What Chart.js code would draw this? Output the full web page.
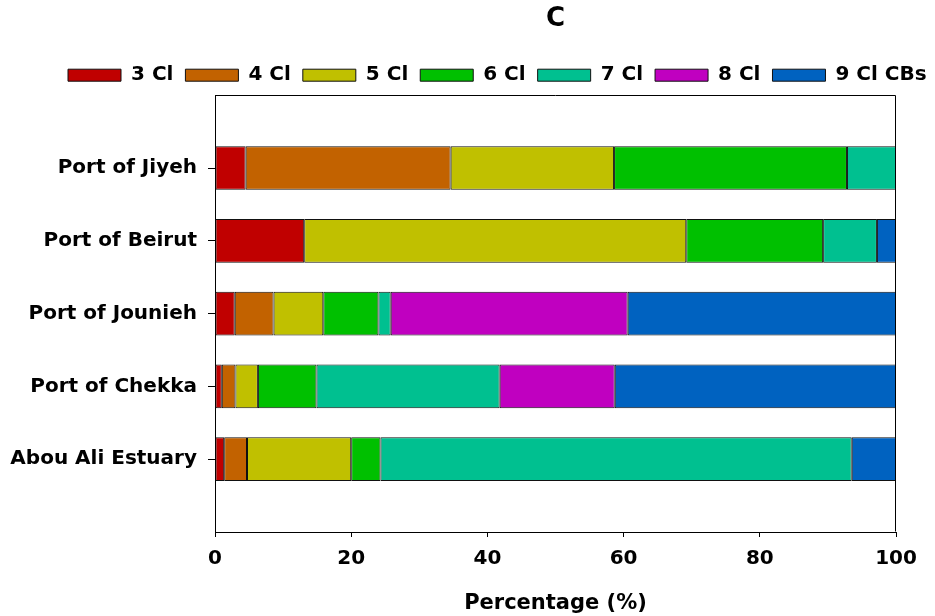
<!DOCTYPE html>
<html>
<head>
<meta charset="utf-8">
<script src="https://cdn.jsdelivr.net/npm/chart.js@4.4.1/dist/chart.umd.min.js"></script>
<style>
  html, body { margin: 0; padding: 0; background: #ffffff; }
  #wrap { width: 935px; height: 616px; }
</style>
</head>
<body>
<div id="wrap"><canvas id="c" width="935" height="616"></canvas></div>
<script>
// ---- data (percentages) ----
const categories = ['Port of Jiyeh', 'Port of Beirut', 'Port of Jounieh', 'Port of Chekka', 'Abou Ali Estuary'];
const seriesNames = ['3 Cl', '4 Cl', '5 Cl', '6 Cl', '7 Cl', '8 Cl', '9 Cl CBs'];
const cl3 = [4.5, 13.1, 2.9, 1.0, 1.35];
const cl4 = [30.1, 0, 5.7, 2.0, 3.35];
const cl5 = [24.0, 56.1, 7.3, 3.3, 15.3];
const cl6 = [34.2, 20.1, 8.1, 8.6, 4.3];
const cl7 = [7.2, 7.9, 1.8, 26.9, 69.2];
const cl8 = [0, 0, 34.8, 16.9, 0];
const cl9 = [0, 2.8, 39.4, 41.3, 6.5];
const xTicks = [0, 20, 40, 60, 80, 100];
const seriesColors = ['#C00000', '#C26200', '#C0C000', '#00C000', '#00C090', '#C000C0', '#0062C0'];

const seriesValues = [cl3, cl4, cl5, cl6, cl7, cl8, cl9];
// pad the category axis with one empty slot above and below (as in the reference)
const labels = [''].concat(categories, ['']);
const pad = arr => [null].concat(arr.map(v => (v === 0 ? null : v)), [null]);

const datasets = seriesNames.map((name, i) => ({
  label: name,
  data: pad(seriesValues[i]),
  backgroundColor: seriesColors[i],
  borderColor: '#111111',
  borderWidth: 1,
  borderSkipped: false,
  categoryPercentage: 0.6,
  barPercentage: 1.0
}));

const FONT = 'DejaVu Sans';

const framePlugin = {
  id: 'frame',
  afterLayout(chart) {
    const ca = chart.chartArea;
    if (chart.titleBlock) {
      chart.titleBlock.left = ca.left;
      chart.titleBlock.right = ca.right;
    }
    if (chart.legend) {
      const w = chart.legend.right - chart.legend.left;
      chart.legend.left = 56;
      chart.legend.right = 56 + w;
    }
  },
  afterDatasetsDraw(chart) {
    const ca = chart.chartArea;
    const ctx = chart.ctx;
    ctx.save();
    ctx.strokeStyle = '#000';
    ctx.lineWidth = 1;
    ctx.beginPath();
    ctx.moveTo(Math.round(ca.left) + 0.5, Math.round(ca.top) + 0.5);
    ctx.lineTo(Math.round(ca.right) - 0.5, Math.round(ca.top) + 0.5);
    ctx.lineTo(Math.round(ca.right) - 0.5, Math.round(ca.bottom) - 0.5);
    ctx.stroke();
    ctx.restore();
  }
};

new Chart(document.getElementById('c'), {
  type: 'bar',
  data: { labels: labels, datasets: datasets },
  plugins: [framePlugin],
  options: {
    indexAxis: 'y',
    responsive: false,
    animation: false,
    layout: { padding: { left: 0, right: 39, top: 0, bottom: 0 } },
    plugins: {
      title: {
        display: true,
        text: 'C',
        color: '#000',
        font: { family: FONT, size: 26, weight: 'bold' },
        padding: { top: 4, bottom: 18 }
      },
      legend: {
        display: true,
        position: 'top',
        align: 'start',
        labels: {
          color: '#000',
          font: { family: FONT, size: 20, weight: 'bold' },
          boxWidth: 53,
          boxHeight: 12,
          padding: 12
        }
      },
      tooltip: { enabled: false }
    },
    scales: {
      x: {
        type: 'linear',
        stacked: true,
        min: 0,
        max: 100,
        afterBuildTicks(scale) { scale.ticks = xTicks.map(v => ({ value: v })); },
        afterFit(scale) { scale.height = 84; },
        ticks: {
          color: '#000',
          font: { family: FONT, size: 20, weight: 'bold' },
          padding: 10,
          maxRotation: 0
        },
        grid: { display: true, drawOnChartArea: false, drawTicks: true, tickLength: 5, tickColor: '#000' },
        border: { display: true, color: '#000', width: 1 },
        title: {
          display: true,
          text: 'Percentage (%)',
          color: '#000',
          font: { family: FONT, size: 21, weight: 'bold' },
          padding: { top: 4, bottom: 0 }
        }
      },
      y: {
        type: 'category',
        stacked: true,
        offset: false,
        afterBuildTicks(scale) {
          scale.ticks = scale.ticks.filter(t => t.value > 0 && t.value < labels.length - 1);
        },
        afterFit(scale) { scale.width = 215; },
        ticks: {
          color: '#000',
          font: { family: FONT, size: 20, weight: 'bold' },
          padding: 11,
          autoSkip: false
        },
        grid: { display: true, offset: false, drawOnChartArea: false, drawTicks: true, tickLength: 7, tickColor: '#000' },
        border: { display: true, color: '#000', width: 1 }
      }
    }
  }
});
</script>
</body>
</html>
